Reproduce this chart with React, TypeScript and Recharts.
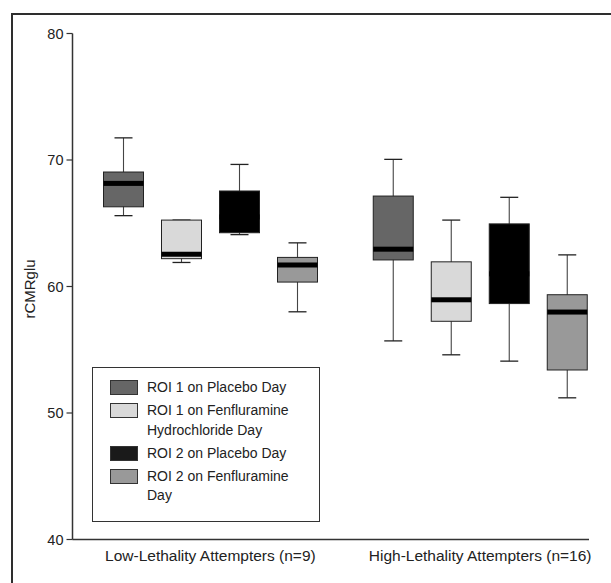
import React from 'react';
import { Bar, ComposedChart, XAxis, YAxis } from 'recharts';

const categories = ['Low-Lethality Attempters (n=9)', 'High-Lethality Attempters (n=16)'];
const seriesNames = [
  'ROI 1 on Placebo Day',
  'ROI 1 on Fenfluramine Hydrochloride Day',
  'ROI 2 on Placebo Day',
  'ROI 2 on Fenfluramine Day',
];
const yTicks = [40, 50, 60, 70, 80];

// five-number summaries per category: [min, q1, median, q3, max]
const roi1Placebo = [
  [65.6, 66.3, 68.15, 69.05, 71.75],
  [55.7, 62.1, 62.95, 67.15, 70.05],
];
const roi1Fenfluramine = [
  [61.9, 62.2, 62.55, 65.25, 65.25],
  [54.6, 57.25, 58.95, 61.95, 65.25],
];
const roi2Placebo = [
  [64.1, 64.25, 65.5, 67.55, 69.65],
  [54.1, 58.65, 61.0, 64.95, 67.05],
];
const roi2Fenfluramine = [
  [58.0, 60.35, 61.7, 62.3, 63.45],
  [51.2, 53.4, 57.98, 59.35, 62.5],
];

const seriesKeys = ['roi1Placebo', 'roi1Fenfluramine', 'roi2Placebo', 'roi2Fenfluramine'];
const seriesStats = [roi1Placebo, roi1Fenfluramine, roi2Placebo, roi2Fenfluramine];
const seriesColors = ['#666666', '#d9d9d9', '#000000', '#999999'];

const data = categories.map((name, i) => {
  const row: Record<string, any> = { name };
  seriesKeys.forEach((key, s) => {
    row[key] = seriesStats[s][i];
  });
  return row;
});

const FONT = "'Liberation Sans', Arial, Helvetica, sans-serif";

// box-and-whisker drawn inside the [min, max] range bar recharts lays out
const makeBoxShape = (key: string, fill: string) => (props: any) => {
  const { x, y, width, height, payload } = props;
  const [min, q1, median, q3, max] = payload[key];
  const toY = (v: number) => y + ((max - v) / (max - min)) * height;
  const cx = x + width / 2;
  const cap = 9;
  return (
    <g>
      <line x1={cx} x2={cx} y1={toY(max)} y2={toY(min)} stroke="#444" strokeWidth={1.1} />
      <line x1={cx - cap} x2={cx + cap} y1={toY(max)} y2={toY(max)} stroke="#222" strokeWidth={1.3} />
      <line x1={cx - cap} x2={cx + cap} y1={toY(min)} y2={toY(min)} stroke="#222" strokeWidth={1.3} />
      <rect x={x} y={toY(q3)} width={width} height={toY(q1) - toY(q3)} fill={fill} stroke="#222" strokeWidth={1} />
      <rect x={x} y={toY(median) - 2.5} width={width} height={5} fill="#000" />
    </g>
  );
};

const renderYLabel = (p: any) => {
  const vb = p.viewBox || { x: 0, y: 33.5, width: 72.5, height: 506 };
  const lx = vb.x + 34.5;
  const ly = vb.y + vb.height / 2 + 2.5;
  return (
    <text
      x={lx}
      y={ly}
      transform={`rotate(-90, ${lx}, ${ly})`}
      textAnchor="middle"
      fill="#222"
      fontSize={15}
      fontFamily={FONT}
    >
      rCMRglu
    </text>
  );
};

export default function App() {
  return (
    <div style={{ position: 'absolute', left: 0, top: 0, width: 611, height: 583, background: '#fff', fontFamily: FONT }}>
      {/* figure frame, only top and left edges show */}
      <div
        style={{
          position: 'absolute',
          left: 11,
          top: 13,
          width: 610,
          height: 580,
          borderTop: '2px solid #2e2e2e',
          borderLeft: '2px solid #2e2e2e',
        }}
      />
      <ComposedChart
        width={611}
        height={583}
        data={data}
        margin={{ top: 33.5, right: 22, bottom: 0, left: 0 }}
        barSize={40}
        barGap={18}
      >
        <XAxis
          dataKey="name"
          padding={{ left: 3, right: -26 }}
          height={43.5}
          tickLine={false}
          tickSize={0}
          tickMargin={10.5}
          axisLine={{ stroke: '#333', strokeWidth: 1.5 }}
          tick={{ fill: '#222', fontSize: 15.5, fontFamily: FONT }}
          interval={0}
        />
        <YAxis
          width={72.5}
          domain={[40, 80]}
          ticks={yTicks}
          interval={0}
          tickSize={6}
          tickMargin={3}
          axisLine={{ stroke: '#333', strokeWidth: 1.5 }}
          tickLine={{ stroke: '#333', strokeWidth: 1.2 }}
          tick={{ fill: '#222', fontSize: 14.5, fontFamily: FONT }}
          label={{ position: 'insideLeft', content: renderYLabel }}
        />
        {seriesKeys.map((key, s) => (
          <Bar
            key={key}
            name={seriesNames[s]}
            dataKey={(d: any) => [d[key][0], d[key][4]]}
            fill={seriesColors[s]}
            shape={makeBoxShape(key, seriesColors[s])}
            isAnimationActive={false}
          />
        ))}
      </ComposedChart>
      {/* legend box */}
      <div
        style={{
          position: 'absolute',
          left: 92,
          top: 367,
          width: 209,
          height: 143,
          border: '1px solid #333',
          padding: '10px 0 0 17px',
          boxSizing: 'content-box',
        }}
      >
        {seriesNames.map((n, s) => (
          <div key={n} style={{ display: 'flex', alignItems: 'flex-start', marginBottom: 3.5 }}>
            <div
              style={{
                width: 26,
                height: 13,
                marginTop: 2,
                marginRight: 9,
                flexShrink: 0,
                background: seriesColors[s] === '#000000' ? '#1a1a1a' : seriesColors[s],
                border: '1px solid #333',
              }}
            />
            <div style={{ fontSize: 14, lineHeight: '19.5px', color: '#222', width: 152 }}>{n}</div>
          </div>
        ))}
      </div>
    </div>
  );
}
